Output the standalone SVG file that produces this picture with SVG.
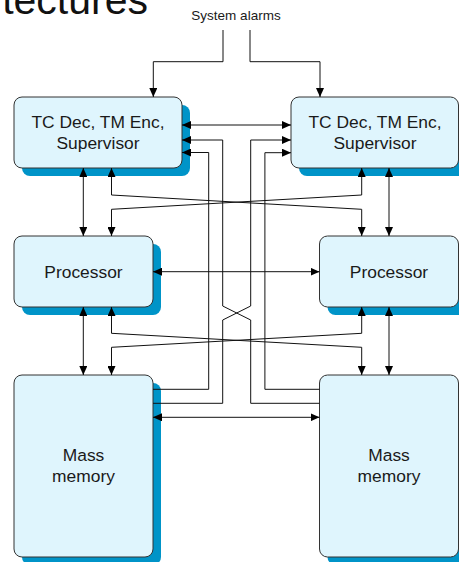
<svg xmlns="http://www.w3.org/2000/svg" width="459" height="562" viewBox="0 0 459 562">
  <style>
    .shadow { fill: #0094c8; }
    .box { fill: #dff5fd; stroke: #333333; stroke-width: 1; }
    .label { font-family: "Liberation Sans", Arial, sans-serif; font-size: 17.4px; fill: #1a1a1a; text-anchor: middle; }
    .wire { fill: none; stroke: #111111; stroke-width: 1; }
    .one { marker-end: url(#arrow); }
    .two { marker-start: url(#arrow); marker-end: url(#arrow); }
    .title { font-family: "Liberation Sans", Arial, sans-serif; font-size: 41px; fill: #111111; text-anchor: end; }
    .small { font-family: "Liberation Sans", Arial, sans-serif; font-size: 13.5px; fill: #1a1a1a; text-anchor: middle; }
  </style>
  <defs>
    <marker id="arrow" viewBox="0 0 9 8" refX="9" refY="4" markerWidth="9" markerHeight="8" markerUnits="userSpaceOnUse" orient="auto-start-reverse">
      <path d="M0,0 L9,4 L0,8 z" fill="#000000"/>
    </marker>
  </defs>

  <rect width="459" height="562" fill="#ffffff"/>

  <!-- heading fragment and alarm label -->
  <text class="title" x="148" y="13.5">tectures</text>
  <text class="small" x="236" y="20">System alarms</text>

  <!-- nodes -->
  <g id="tc-left">
    <rect class="shadow" x="22" y="105" width="168" height="71" rx="8"/>
    <rect class="box" x="14" y="97" width="168" height="71" rx="8"/>
    <text class="label" x="98" y="128">TC Dec, TM Enc,</text>
    <text class="label" x="98" y="149">Supervisor</text>
  </g>
  <g id="tc-right">
    <rect class="shadow" x="299" y="105" width="168" height="71" rx="8"/>
    <rect class="box" x="291" y="97" width="167.5" height="71" rx="8"/>
    <text class="label" x="375" y="128">TC Dec, TM Enc,</text>
    <text class="label" x="375" y="149">Supervisor</text>
  </g>
  <g id="proc-left">
    <rect class="shadow" x="22" y="244" width="139" height="71" rx="8"/>
    <rect class="box" x="14" y="236" width="139" height="71" rx="8"/>
    <text class="label" x="83.5" y="277.5">Processor</text>
  </g>
  <g id="proc-right">
    <rect class="shadow" x="327.5" y="244" width="139" height="71" rx="8"/>
    <rect class="box" x="319.5" y="236" width="139" height="71" rx="8"/>
    <text class="label" x="389" y="277.5">Processor</text>
  </g>
  <g id="mass-left">
    <rect class="shadow" x="22" y="383" width="139" height="182" rx="8"/>
    <rect class="box" x="14" y="375" width="139" height="182" rx="8"/>
    <text class="label" x="83.5" y="461">Mass</text>
    <text class="label" x="83.5" y="482">memory</text>
  </g>
  <g id="mass-right">
    <rect class="shadow" x="327.5" y="383" width="139" height="182" rx="8"/>
    <rect class="box" x="319.5" y="375" width="139" height="182" rx="8"/>
    <text class="label" x="389" y="461">Mass</text>
    <text class="label" x="389" y="482">memory</text>
  </g>

  <!-- connectors -->
  <g id="connectors">
    <!-- system alarms -->
    <path class="wire one" d="M223,30 V61.7 H153.3 V97"/>
    <path class="wire one" d="M250,30 V61.7 H320 V97"/>
    <!-- supervisor to supervisor -->
    <path class="wire two" d="M182,125 H291"/>
    <!-- mass memory to supervisors -->
    <path class="wire one" d="M319.5,403.3 H250.7 V320 L222.7,306 V140 H182"/>
    <path class="wire one" d="M153,403.3 H222.7 V320 L250.7,306 V140 H291"/>
    <path class="wire one" d="M153,389.3 H208.7 V152.5 H182"/>
    <path class="wire one" d="M319.5,389.3 H264.9 V152.7 H291"/>
    <!-- mass memory cross link -->
    <path class="wire two" d="M153,417.3 H319.5"/>
    <!-- processor cross link -->
    <path class="wire two" d="M153,271.7 H319.5"/>
    <!-- supervisor to processor -->
    <path class="wire two" d="M83.3,168 V236"/>
    <path class="wire two" d="M389,168 V236"/>
    <path class="wire two" d="M111.5,168 V195 L361.7,209.3 V236"/>
    <path class="wire two" d="M361.7,168 V195 L111.5,209.3 V236"/>
    <!-- processor to mass memory -->
    <path class="wire two" d="M83.3,307 V375"/>
    <path class="wire two" d="M389,307 V375"/>
    <path class="wire two" d="M111.5,307 V333.3 L361.7,347.3 V375"/>
    <path class="wire two" d="M361.7,307 V333.3 L111.5,347.3 V375"/>
  </g>
</svg>
